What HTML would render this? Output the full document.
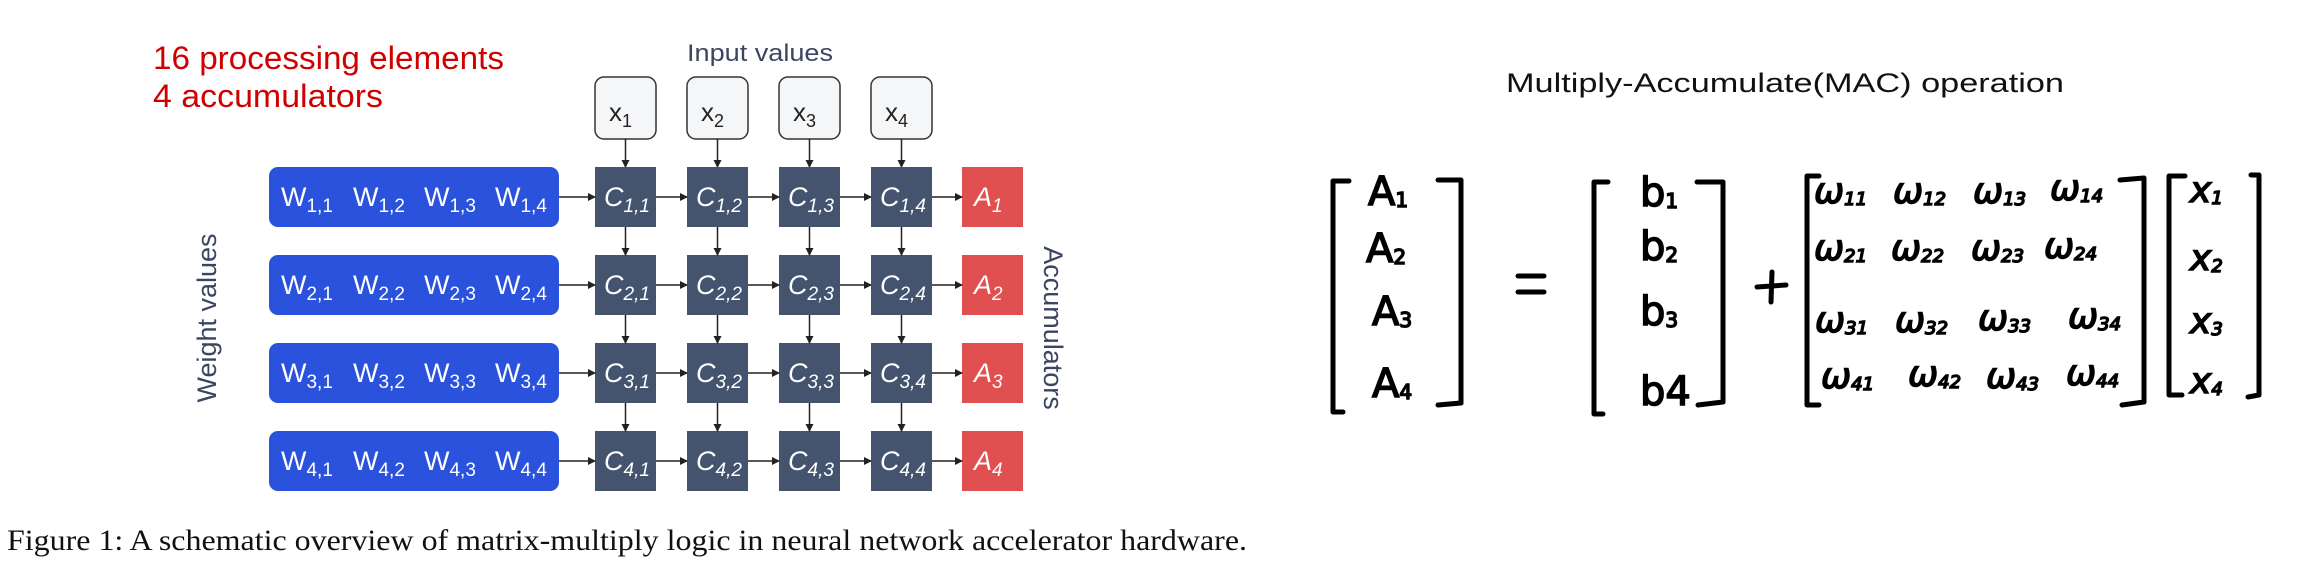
<!DOCTYPE html>
<html><head><meta charset="utf-8"><style>
html,body{margin:0;padding:0;background:#fff;}
svg{display:block}
</style></head><body>
<svg width="2322" height="575" viewBox="0 0 2322 575" xmlns="http://www.w3.org/2000/svg">
<defs>
<marker id="ar" markerWidth="8" markerHeight="8" refX="7" refY="4" orient="auto" markerUnits="userSpaceOnUse">
<path d="M0,0 L8,4 L0,8 z" fill="#222"/>
</marker>
</defs>
<g font-family="Liberation Sans, sans-serif">
<text x="153" y="69" font-size="32" fill="#d00000" textLength="351" lengthAdjust="spacingAndGlyphs">16 processing elements</text>
<text x="153" y="107" font-size="32" fill="#d00000" textLength="230" lengthAdjust="spacingAndGlyphs">4 accumulators</text>
<text x="687" y="61" font-size="24" fill="#3a4660" textLength="146" lengthAdjust="spacingAndGlyphs">Input values</text>
<text transform="translate(216,318) rotate(-90)" text-anchor="middle" font-size="27" fill="#3a4660">Weight values</text>
<text transform="translate(1044,328) rotate(90)" text-anchor="middle" font-size="27" fill="#3a4660">Accumulators</text>
</g>
<g font-family="Liberation Sans, sans-serif">
<g fill="#f5f6f8" stroke="#333" stroke-width="1.5">
<rect x="595" y="77" width="61" height="62" rx="9"/>
<rect x="687" y="77" width="61" height="62" rx="9"/>
<rect x="779" y="77" width="61" height="62" rx="9"/>
<rect x="871" y="77" width="61" height="62" rx="9"/>
</g>
<g font-size="26" fill="#222">
<text x="609" y="121">x<tspan font-size="18" dy="6">1</tspan></text>
<text x="701" y="121">x<tspan font-size="18" dy="6">2</tspan></text>
<text x="793" y="121">x<tspan font-size="18" dy="6">3</tspan></text>
<text x="885" y="121">x<tspan font-size="18" dy="6">4</tspan></text>
</g>
<g stroke="#222" stroke-width="1.5" marker-end="url(#ar)">
<line x1="625.5" y1="139" x2="625.5" y2="167"/>
<line x1="717.5" y1="139" x2="717.5" y2="167"/>
<line x1="809.5" y1="139" x2="809.5" y2="167"/>
<line x1="901.5" y1="139" x2="901.5" y2="167"/>
</g>
</g>
<g font-family="Liberation Sans, sans-serif">
<g fill="#2a52dc">
<rect x="269" y="167" width="290" height="60" rx="9"/>
<rect x="269" y="255" width="290" height="60" rx="9"/>
<rect x="269" y="343" width="290" height="60" rx="9"/>
<rect x="269" y="431" width="290" height="60" rx="9"/>
</g>
<g fill="#44546f">
<rect x="595" y="167" width="61" height="60"/><rect x="687" y="167" width="61" height="60"/><rect x="779" y="167" width="61" height="60"/><rect x="871" y="167" width="61" height="60"/>
<rect x="595" y="255" width="61" height="60"/><rect x="687" y="255" width="61" height="60"/><rect x="779" y="255" width="61" height="60"/><rect x="871" y="255" width="61" height="60"/>
<rect x="595" y="343" width="61" height="60"/><rect x="687" y="343" width="61" height="60"/><rect x="779" y="343" width="61" height="60"/><rect x="871" y="343" width="61" height="60"/>
<rect x="595" y="431" width="61" height="60"/><rect x="687" y="431" width="61" height="60"/><rect x="779" y="431" width="61" height="60"/><rect x="871" y="431" width="61" height="60"/>
</g>
<g fill="#e05050">
<rect x="962" y="167" width="61" height="60"/><rect x="962" y="255" width="61" height="60"/><rect x="962" y="343" width="61" height="60"/><rect x="962" y="431" width="61" height="60"/>
</g>
<g fill="#fff" font-size="27">
<text x="281" y="206">W<tspan font-size="19" dy="6">1,1</tspan></text><text x="353" y="206">W<tspan font-size="19" dy="6">1,2</tspan></text><text x="424" y="206">W<tspan font-size="19" dy="6">1,3</tspan></text><text x="495" y="206">W<tspan font-size="19" dy="6">1,4</tspan></text>
<text x="281" y="294">W<tspan font-size="19" dy="6">2,1</tspan></text><text x="353" y="294">W<tspan font-size="19" dy="6">2,2</tspan></text><text x="424" y="294">W<tspan font-size="19" dy="6">2,3</tspan></text><text x="495" y="294">W<tspan font-size="19" dy="6">2,4</tspan></text>
<text x="281" y="382">W<tspan font-size="19" dy="6">3,1</tspan></text><text x="353" y="382">W<tspan font-size="19" dy="6">3,2</tspan></text><text x="424" y="382">W<tspan font-size="19" dy="6">3,3</tspan></text><text x="495" y="382">W<tspan font-size="19" dy="6">3,4</tspan></text>
<text x="281" y="470">W<tspan font-size="19" dy="6">4,1</tspan></text><text x="353" y="470">W<tspan font-size="19" dy="6">4,2</tspan></text><text x="424" y="470">W<tspan font-size="19" dy="6">4,3</tspan></text><text x="495" y="470">W<tspan font-size="19" dy="6">4,4</tspan></text>
</g>
<g fill="#fff" font-size="27" font-style="italic">
<text x="604" y="206">C<tspan font-size="19" dy="6">1,1</tspan></text><text x="696" y="206">C<tspan font-size="19" dy="6">1,2</tspan></text><text x="788" y="206">C<tspan font-size="19" dy="6">1,3</tspan></text><text x="880" y="206">C<tspan font-size="19" dy="6">1,4</tspan></text>
<text x="604" y="294">C<tspan font-size="19" dy="6">2,1</tspan></text><text x="696" y="294">C<tspan font-size="19" dy="6">2,2</tspan></text><text x="788" y="294">C<tspan font-size="19" dy="6">2,3</tspan></text><text x="880" y="294">C<tspan font-size="19" dy="6">2,4</tspan></text>
<text x="604" y="382">C<tspan font-size="19" dy="6">3,1</tspan></text><text x="696" y="382">C<tspan font-size="19" dy="6">3,2</tspan></text><text x="788" y="382">C<tspan font-size="19" dy="6">3,3</tspan></text><text x="880" y="382">C<tspan font-size="19" dy="6">3,4</tspan></text>
<text x="604" y="470">C<tspan font-size="19" dy="6">4,1</tspan></text><text x="696" y="470">C<tspan font-size="19" dy="6">4,2</tspan></text><text x="788" y="470">C<tspan font-size="19" dy="6">4,3</tspan></text><text x="880" y="470">C<tspan font-size="19" dy="6">4,4</tspan></text>
<text x="974" y="206">A<tspan font-size="19" dy="6">1</tspan></text>
<text x="974" y="294">A<tspan font-size="19" dy="6">2</tspan></text>
<text x="974" y="382">A<tspan font-size="19" dy="6">3</tspan></text>
<text x="974" y="470">A<tspan font-size="19" dy="6">4</tspan></text>
</g>
<g stroke="#222" stroke-width="1.5" marker-end="url(#ar)">
<line x1="559" y1="197" x2="595" y2="197"/><line x1="656" y1="197" x2="687" y2="197"/><line x1="748" y1="197" x2="779" y2="197"/><line x1="840" y1="197" x2="871" y2="197"/><line x1="932" y1="197" x2="962" y2="197"/>
<line x1="559" y1="285" x2="595" y2="285"/><line x1="656" y1="285" x2="687" y2="285"/><line x1="748" y1="285" x2="779" y2="285"/><line x1="840" y1="285" x2="871" y2="285"/><line x1="932" y1="285" x2="962" y2="285"/>
<line x1="559" y1="373" x2="595" y2="373"/><line x1="656" y1="373" x2="687" y2="373"/><line x1="748" y1="373" x2="779" y2="373"/><line x1="840" y1="373" x2="871" y2="373"/><line x1="932" y1="373" x2="962" y2="373"/>
<line x1="559" y1="461" x2="595" y2="461"/><line x1="656" y1="461" x2="687" y2="461"/><line x1="748" y1="461" x2="779" y2="461"/><line x1="840" y1="461" x2="871" y2="461"/><line x1="932" y1="461" x2="962" y2="461"/>
<line x1="625.5" y1="227" x2="625.5" y2="255"/><line x1="717.5" y1="227" x2="717.5" y2="255"/><line x1="809.5" y1="227" x2="809.5" y2="255"/><line x1="901.5" y1="227" x2="901.5" y2="255"/>
<line x1="625.5" y1="315" x2="625.5" y2="343"/><line x1="717.5" y1="315" x2="717.5" y2="343"/><line x1="809.5" y1="315" x2="809.5" y2="343"/><line x1="901.5" y1="315" x2="901.5" y2="343"/>
<line x1="625.5" y1="403" x2="625.5" y2="431"/><line x1="717.5" y1="403" x2="717.5" y2="431"/><line x1="809.5" y1="403" x2="809.5" y2="431"/><line x1="901.5" y1="403" x2="901.5" y2="431"/>
</g>
</g>
<text x="7" y="550" font-family="Liberation Serif, serif" font-size="30" fill="#111" textLength="1240" lengthAdjust="spacingAndGlyphs">Figure 1: A schematic overview of matrix-multiply logic in neural network accelerator hardware.</text>

<text x="1506" y="92" font-family="Liberation Sans, sans-serif" font-size="27" fill="#111" textLength="558" lengthAdjust="spacingAndGlyphs">Multiply-Accumulate(MAC) operation</text>
<g fill="none" stroke="#000" stroke-width="5" stroke-linecap="round" stroke-linejoin="round">
<path d="M1349,181 L1333,181 L1333,412 L1343,412"/>
<path d="M1438,180 L1461,180 L1461,403 L1438,405"/>
<path d="M1518,276 L1544,276 M1518,292 L1544,292"/>
<path d="M1608,182 L1594,182 L1594,414 L1603,414"/>
<path d="M1697,182 L1723,182 L1723,402 L1698,405"/>
<path d="M1757,287 L1786,285 M1772,272 L1771,302"/>
<path d="M1819,176 L1807,176 L1807,405 L1819,405"/>
<path d="M2120,180 L2144,178 L2144,402 L2122,405"/>
<path d="M2185,176 L2169,176 L2169,395 L2182,395"/>
<path d="M2251,175 L2259,175 L2259,395 L2248,397"/>
</g>
<g font-family="DejaVu Sans, sans-serif" fill="#000" stroke="#000" stroke-width="1.5">
<g font-size="40">
<text x="1368" y="205">A<tspan font-size="20" dy="2">1</tspan></text>
<text x="1366" y="262">A<tspan font-size="20" dy="2">2</tspan></text>
<text x="1372" y="325">A<tspan font-size="20" dy="2">3</tspan></text>
<text x="1372" y="397">A<tspan font-size="20" dy="2">4</tspan></text>
<text x="1640" y="206">b<tspan font-size="20" dy="2">1</tspan></text>
<text x="1640" y="260">b<tspan font-size="20" dy="2">2</tspan></text>
<text x="1640" y="325">b<tspan font-size="20" dy="2">3</tspan></text>
<text x="1640" y="405">b4</text>
</g>
<g font-size="36" font-style="italic">
<text x="1814" y="203">ω<tspan font-size="18" dy="2">11</tspan></text><text x="1893" y="203">ω<tspan font-size="18" dy="2">12</tspan></text><text x="1973" y="203">ω<tspan font-size="18" dy="2">13</tspan></text><text x="2050" y="200">ω<tspan font-size="18" dy="2">14</tspan></text>
<text x="1814" y="260">ω<tspan font-size="18" dy="2">21</tspan></text><text x="1891" y="260">ω<tspan font-size="18" dy="2">22</tspan></text><text x="1971" y="260">ω<tspan font-size="18" dy="2">23</tspan></text><text x="2044" y="258">ω<tspan font-size="18" dy="2">24</tspan></text>
<text x="1815" y="332">ω<tspan font-size="18" dy="2">31</tspan></text><text x="1895" y="332">ω<tspan font-size="18" dy="2">32</tspan></text><text x="1978" y="330">ω<tspan font-size="18" dy="2">33</tspan></text><text x="2068" y="328">ω<tspan font-size="18" dy="2">34</tspan></text>
<text x="1821" y="388">ω<tspan font-size="18" dy="2">41</tspan></text><text x="1908" y="386">ω<tspan font-size="18" dy="2">42</tspan></text><text x="1986" y="388">ω<tspan font-size="18" dy="2">43</tspan></text><text x="2066" y="385">ω<tspan font-size="18" dy="2">44</tspan></text>
<text x="2190" y="202">x<tspan font-size="18" dy="2">1</tspan></text>
<text x="2190" y="270">x<tspan font-size="18" dy="2">2</tspan></text>
<text x="2190" y="333">x<tspan font-size="18" dy="2">3</tspan></text>
<text x="2190" y="393">x<tspan font-size="18" dy="2">4</tspan></text>
</g>
</g>
</svg>
</body></html>
